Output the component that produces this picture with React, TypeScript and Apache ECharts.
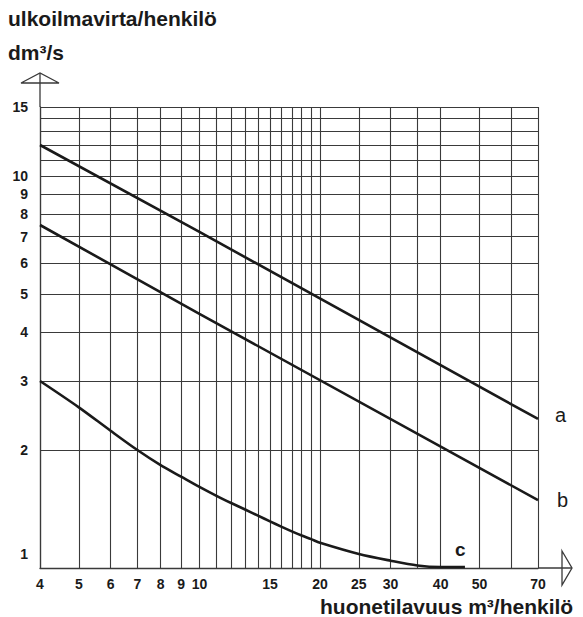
import React, { useEffect, useRef } from "react";
import * as echarts from "echarts";

const xGridValues = [4, 5, 6, 7, 8, 9, 10, 11, 12, 13, 14, 15, 16, 17, 18, 19, 20, 25, 30, 35, 40, 50, 60, 70];
const xLabelValues = [4, 5, 6, 7, 8, 9, 10, 15, 20, 25, 30, 40, 50, 70];
const yGridValues = [1, 2, 3, 4, 5, 6, 7, 8, 9, 10, 11, 12, 13, 14, 15];
const yLabelValues = [1, 2, 3, 4, 5, 6, 7, 8, 9, 10, 15];

const seriesA: [number, number][] = [[4, 12], [10, 7.2], [70, 2.4]];
const seriesB: [number, number][] = [[4, 7.5], [10, 4.45], [70, 1.49]];
const seriesC: [number, number][] = [
  [4, 3], [5, 2.57], [6, 2.24], [7, 2.0], [8, 1.83], [9, 1.71], [10, 1.61], [11, 1.53],
  [12, 1.465], [13, 1.41], [14, 1.36], [15, 1.315], [16, 1.275], [17, 1.24], [18, 1.21],
  [19, 1.185], [20, 1.16], [25, 1.086], [30, 1.044], [35, 1.015], [40, 1.006], [46, 1.006],
];

const yTitle = "ulkoilmavirta/henkilö";
const yUnit = "dm³/s";
const xTitle = "huonetilavuus m³/henkilö";

const FONT = "'Liberation Sans', Arial, sans-serif";
const INK = "#1a1a1a";
const GRIDC = "#3a3a3a";

export default function App() {
  const ref = useRef<HTMLDivElement>(null);
  useEffect(() => {
    if (!ref.current) return;
    const chart = echarts.init(ref.current, undefined, { renderer: "svg" });
    const L = 40, R = 538, T = 107, B = 568;
    const lineStyle = { color: INK, width: 2.6 };
    chart.setOption({
      animation: false,
      backgroundColor: "#ffffff",
      grid: { left: L, right: 583 - R, top: T, bottom: 617 - B },
      xAxis: {
        type: "log",
        logBase: 10,
        min: 4,
        max: 70,
        axisLine: { show: true, lineStyle: { color: GRIDC, width: 1.3 } },
        axisTick: { show: false, customValues: xGridValues },
        splitLine: { show: true, lineStyle: { color: GRIDC, width: 1.1 } },
        axisLabel: {
          customValues: xLabelValues,
          margin: 9,
          color: INK,
          fontFamily: FONT,
          fontSize: 14,
          fontWeight: "bold",
          formatter: (v: number) => String(Math.round(v)),
        },
      },
      yAxis: {
        type: "log",
        logBase: 10,
        min: 1,
        max: 15,
        axisLine: { show: true, lineStyle: { color: GRIDC, width: 1.3 } },
        axisTick: { show: false, customValues: yGridValues },
        splitLine: { show: true, lineStyle: { color: GRIDC, width: 1.1 } },
        axisLabel: {
          customValues: yLabelValues,
          margin: 12,
          color: INK,
          fontFamily: FONT,
          fontSize: 14,
          fontWeight: "bold",
          formatter: (v: number) => {
            const r = Math.round(v);
            return r === 1 ? "{one|1}" : String(r);
          },
          rich: {
            one: { padding: [0, 0, 28, 0], fontFamily: FONT, fontSize: 14, fontWeight: "bold", color: INK },
          },
        },
      },
      series: [
        {
          type: "line",
          data: seriesA,
          showSymbol: false,
          lineStyle,
          endLabel: { show: true, formatter: "a", distance: 17, offset: [0, -4], color: INK, fontFamily: FONT, fontSize: 20 },
        },
        {
          type: "line",
          data: seriesB,
          showSymbol: false,
          lineStyle,
          endLabel: { show: true, formatter: "b", distance: 19, offset: [0, 0], color: INK, fontFamily: FONT, fontSize: 20 },
        },
        {
          type: "line",
          data: seriesC,
          showSymbol: false,
          smooth: 0.3,
          lineStyle,
          endLabel: { show: true, formatter: "c", distance: 0, offset: [-10, -17], color: INK, fontFamily: FONT, fontSize: 19, fontWeight: "bold" },
        },
      ],
      graphic: [
        { type: "text", left: 8, top: 8, style: { text: yTitle, fill: INK, font: `bold 21px ${FONT}` } },
        { type: "text", left: 8, top: 42, style: { text: yUnit, fill: INK, font: `bold 21px ${FONT}` } },
        { type: "text", left: 320, top: 596, style: { text: xTitle, fill: INK, font: `bold 21px ${FONT}` } },
        { type: "line", shape: { x1: L, y1: T, x2: L, y2: 73 }, style: { stroke: GRIDC, lineWidth: 1.3 } },
        { type: "polygon", shape: { points: [[21, 83], [L, 73], [59, 83]] }, style: { fill: "none", stroke: GRIDC, lineWidth: 1.3 } },
        { type: "line", shape: { x1: R, y1: B, x2: 572, y2: B }, style: { stroke: GRIDC, lineWidth: 1.3 } },
        { type: "polygon", shape: { points: [[562, 551], [572, B], [562, 585]] }, style: { fill: "none", stroke: GRIDC, lineWidth: 1.3 } },
      ],
    });
    return () => chart.dispose();
  }, []);
  return (
    <div
      ref={ref}
      style={{ position: "fixed", left: 0, top: 0, width: 583, height: 617, background: "#fff" }}
    />
  );
}
